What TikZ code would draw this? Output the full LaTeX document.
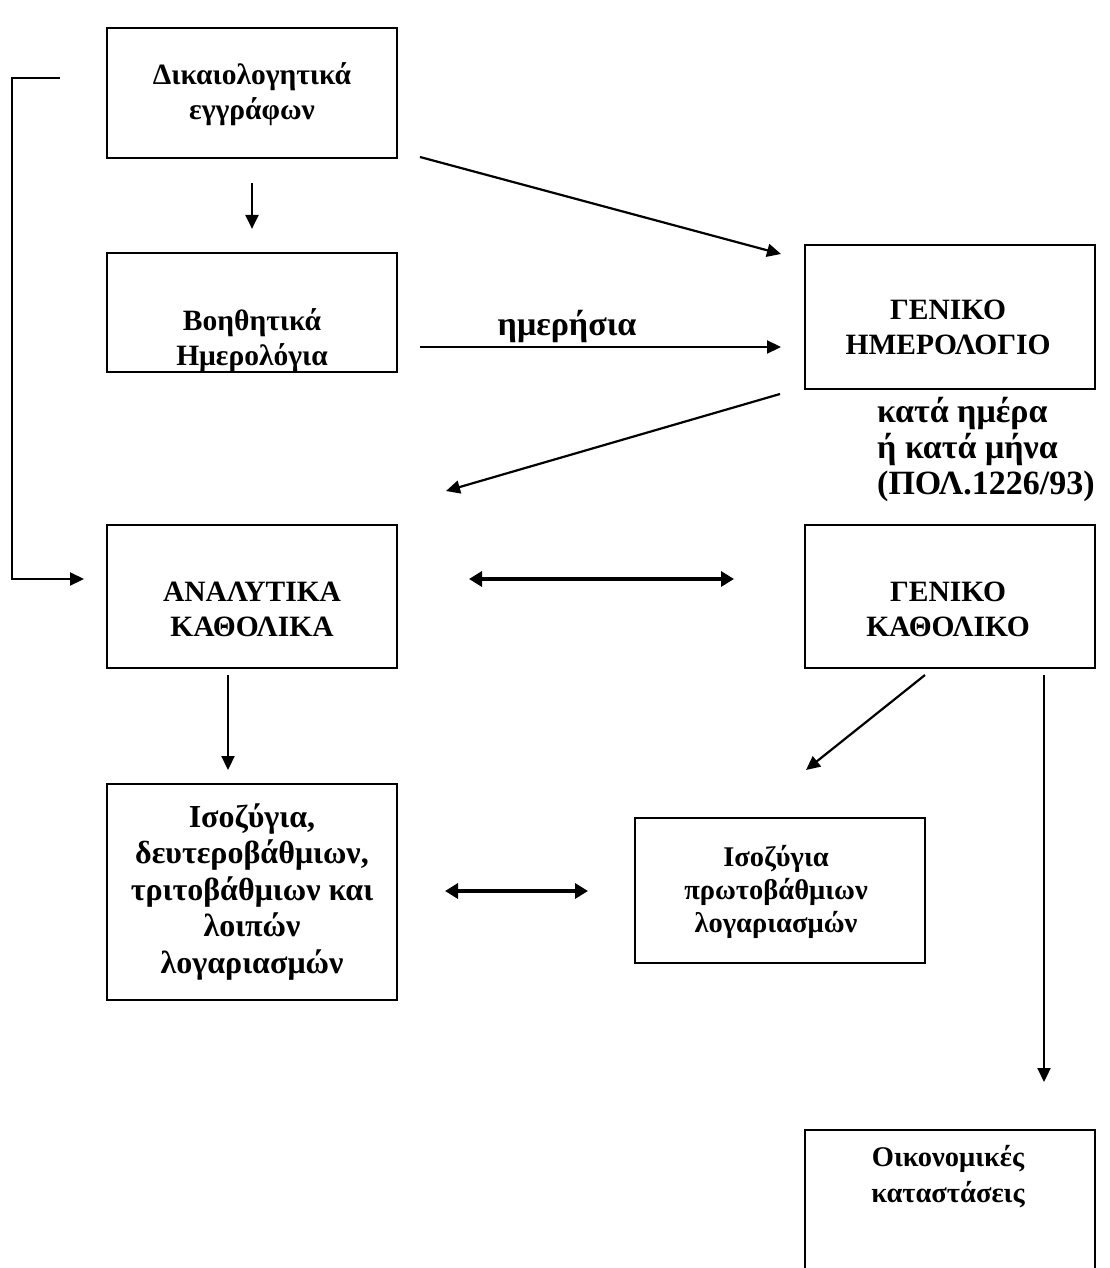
\documentclass[tikz,border=0pt]{standalone}
\usepackage{fontspec}
\setmainfont{Liberation Serif}
\usetikzlibrary{arrows.meta}
\begin{document}
\begin{tikzpicture}[x=1pt,y=-1pt,
  box/.style={draw, line width=2.2pt, inner sep=0pt, minimum width=290pt},
  txt/.style={font=\bfseries\fontsize{29.5}{35}\selectfont, align=center, inner sep=0pt},
  lbl/.style={font=\bfseries\fontsize{34}{36}\selectfont, inner sep=0pt},
  arr/.style={line width=2.2pt, -{Triangle[length=14pt,width=13pt]}},
  darr/.style={line width=3.4pt, {Triangle[length=13pt,width=15pt]}-{Triangle[length=13pt,width=15pt]}}]
\useasboundingbox (0,0) rectangle (1110,1268);
\clip (0,0) rectangle (1110,1268);
\fill[white] (0,0) rectangle (1110,1268);

% boxes
\node[box, minimum height=130pt] (b1) at (252,93) {};
\node[box, minimum height=119pt] (b2) at (252,312.5) {};
\node[box, minimum height=144pt] (b3) at (950,317) {};
\node[box, minimum height=143pt] (b4) at (252,596.5) {};
\node[box, minimum height=143pt] (b5) at (950,596.5) {};
\node[box, minimum height=216pt] (b6) at (252,892) {};
\node[box, minimum height=145pt] (b7) at (780,890.5) {};
\node[box, minimum height=160pt] (b8) at (950,1210) {};

% box texts
\node[txt] (t1) at (252,94) {Δικαιολογητικά\\εγγράφων};
\node[txt] (t2) at (252,340) {Βοηθητικά\\Ημερολόγια};
\node[txt] (t3) at (948,327) {ΓΕΝΙΚΟ\\ΗΜΕΡΟΛΟΓΙΟ};
\node[txt] (t4) at (252,609) {ΑΝΑΛΥΤΙΚΑ\\ΚΑΘΟΛΙΚΑ};
\node[txt] (t5) at (948,609) {ΓΕΝΙΚΟ\\ΚΑΘΟΛΙΚΟ};
\node[txt, font=\bfseries\fontsize{32}{36.5}\selectfont] (t6) at (252,892) {Ισοζύγια,\\δευτεροβάθμιων,\\τριτοβάθμιων και\\λοιπών\\λογαριασμών};
\node[txt, font=\bfseries\fontsize{28.5}{33}\selectfont] (t7) at (776,892) {Ισοζύγια\\πρωτοβάθμιων\\λογαριασμών};
\node[txt, font=\bfseries\fontsize{28.5}{36}\selectfont] (t8) at (948,1177) {Οικονομικές\\καταστάσεις};

% labels
\node[lbl, anchor=base] (l1) at (567,335) {ημερήσια};
\node[lbl, align=left, anchor=west] (l2) at (877,449) {κατά ημέρα\\ή κατά μήνα\\(ΠΟΛ.1226/93)};

% connector end points
\coordinate (lp1) at (60,78);
\coordinate (lp2) at (12,78);
\coordinate (lp3) at (12,579);
\coordinate (lp4) at (84,579);
\coordinate (a2s) at (420,157);
\coordinate (a2e) at (781,254);
\coordinate (a3s) at (420,347);
\coordinate (a3e) at (781,347);
\coordinate (a4s) at (780,394);
\coordinate (a4e) at (446,491);
\coordinate (a6s) at (469,579);
\coordinate (a6e) at (734,579);
\coordinate (a7s) at (228,675);
\coordinate (a7e) at (228,770);
\coordinate (a8s) at (925,675);
\coordinate (a8e) at (806,770);
\coordinate (a9s) at (1044,675);
\coordinate (a9e) at (1044,1082);
\coordinate (a10s) at (445,891);
\coordinate (a10e) at (588,891);

% connectors
\draw[arr, shorten <=24pt, shorten >=23pt] (b1.south) -- (b2.north);
\draw[arr] (a2s) -- (a2e);
\draw[arr] (a3s) -- (a3e);
\draw[arr] (a4s) -- (a4e);
\draw[arr] (lp1) -- (lp2) -- (lp3) -- (lp4);
\draw[darr] (a6s) -- (a6e);
\draw[arr] (a7s) -- (a7e);
\draw[arr] (a8s) -- (a8e);
\draw[arr] (a9s) -- (a9e);
\draw[darr] (a10s) -- (a10e);
\end{tikzpicture}
\end{document}
